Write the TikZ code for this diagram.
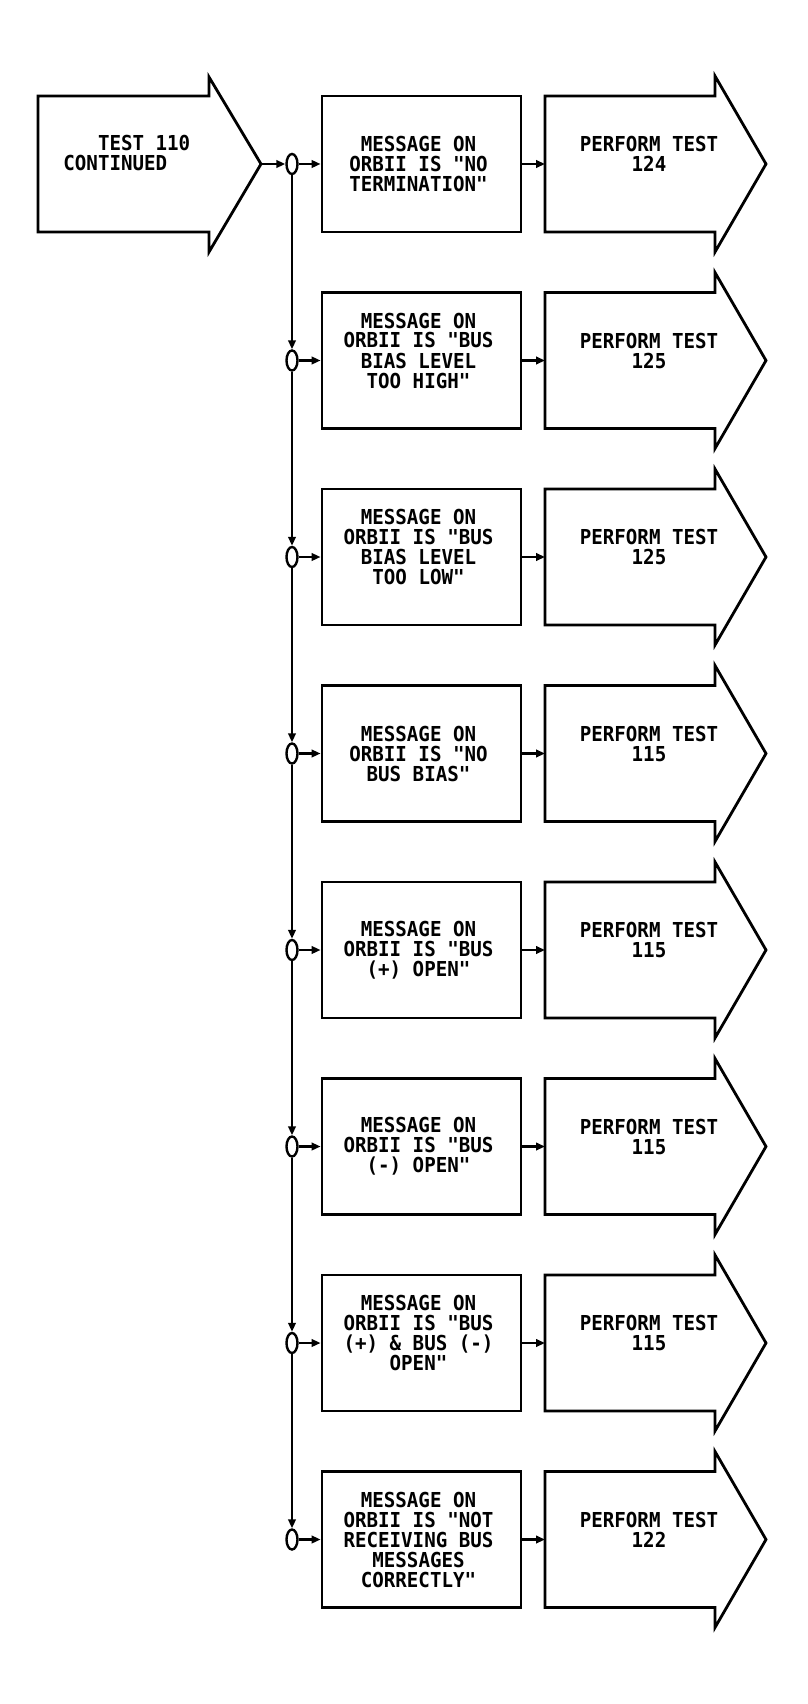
\documentclass[tikz,border=0pt]{standalone}
\usepackage{fontspec}
\newfontfamily\plotfont[FakeStretch=0.93]{DejaVu Sans Mono}
\usetikzlibrary{arrows.meta,shapes.geometric}
\begin{document}
\begin{tikzpicture}[x=1pt,y=-1pt,
  line width=2.8pt, line join=miter,
  txt/.style={font=\plotfont\bfseries\fontsize{20.6}{20}\selectfont, align=center, inner sep=0pt},
  msgbox/.style={draw, rectangle, minimum width=199pt, minimum height=136pt, inner sep=0pt},
  junc/.style={draw, ellipse, minimum width=11pt, minimum height=20pt, inner sep=0pt, line width=2.4pt},
  conn/.style={-{Triangle[length=9pt,width=7.5pt]}, line width=2.6pt}]
\useasboundingbox (0,0) rectangle (807,1704);
% start arrow
\draw (38,96) -- (209,96) -- (209,77) -- (261,164) -- (209,252) -- (209,232) -- (38,232) -- cycle;
\coordinate (lt) at (261,164);
\node[txt, align=left, anchor=west] (start) at (62,153.5) {~~~TEST 110\\CONTINUED};
\foreach \i/\msg/\num/\sh in {
  1/{MESSAGE ON\\ORBII IS "NO\\TERMINATION"}/124/0,
  2/{MESSAGE ON\\ORBII IS "BUS\\BIAS LEVEL\\TOO HIGH"}/125/10,
  3/{MESSAGE ON\\ORBII IS "BUS\\BIAS LEVEL\\TOO LOW"}/125/10,
  4/{MESSAGE ON\\ORBII IS "NO\\BUS BIAS"}/115/0,
  5/{MESSAGE ON\\ORBII IS "BUS\\(+) OPEN"}/115/0,
  6/{MESSAGE ON\\ORBII IS "BUS\\(-) OPEN"}/115/0,
  7/{MESSAGE ON\\ORBII IS "BUS\\(+) \& BUS (-)\\OPEN"}/115/10,
  8/{MESSAGE ON\\ORBII IS "NOT\\RECEIVING BUS\\MESSAGES\\CORRECTLY"}/122/0} {
  \pgfmathsetmacro\yc{164+196.5*(\i-1)}
  \node[junc] (j\i) at (292,\yc) {};
  \node[msgbox] (b\i) at (421.5,\yc) {};
  \node[txt] (t\i) at ([xshift=-3pt,yshift=\sh pt]b\i.center) {\msg};
  \draw (545,\yc-68) -- (715,\yc-68) -- (715,\yc-88) -- (766,\yc) -- (715,\yc+88) -- (715,\yc+68) -- (545,\yc+68) -- cycle;
  \coordinate (r\i) at (545,\yc);
  \node[txt] (p\i) at (649,\yc-10) {PERFORM TEST\\\num};
  \draw[conn] (j\i.east) -- (b\i.west);
  \draw[conn] (b\i.east) -- (r\i);
  \ifnum\i>1
    \pgfmathtruncatemacro\prev{\i-1}
    \draw[conn] (j\prev.south) -- (j\i.north);
  \fi
}
\draw[conn] (lt) -- (j1.west);
\end{tikzpicture}
\end{document}
